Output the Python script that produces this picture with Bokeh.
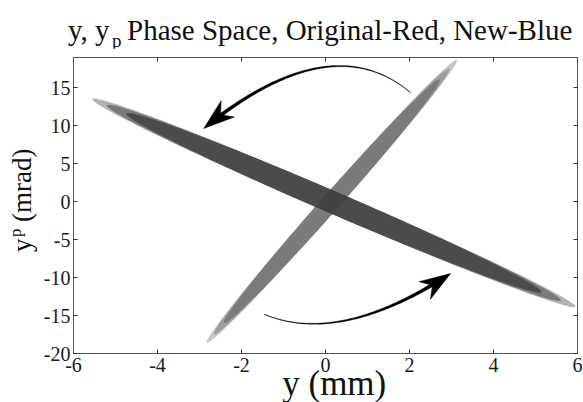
import numpy as np
from bokeh.plotting import figure
from bokeh.layouts import column, row
from bokeh.models import (Range1d, LinearAxis, FixedTicker, Div,
                          CustomJSTickFormatter)
from bokeh.embed import file_html
from bokeh.resources import INLINE

# ---- beam extents (y in mm, y' in mrad) ----
# Each beam is an ellipse given by its two tips and the half-chord through its centre.
orig_tip_low = [-2.82, -18.6]
orig_tip_high = [3.12, 18.7]
orig_half_chord = [0.28, 0.0]      # horizontal half-chord (mm)
new_tip_high = [-5.55, 13.5]
new_tip_low = [5.95, -13.8]
new_half_chord = [0.0, 1.6]        # vertical half-chord (mrad)

# ---- rotation arrows: tail, mid-curve point, head tip ----
arrow_upper = [[2.02, 14.39], [-0.16, 17.62], [-2.90, 9.65]]
arrow_lower = [[-1.45, -14.86], [0.56, -15.55], [2.98, -9.46]]

x_ticks = [-6, -4, -2, 0, 2, 4, 6]
y_ticks = [-20, -15, -10, -5, 0, 5, 10, 15]
x_lim = [-6, 6]
y_lim = [-20, 19]

title_main = "y, y"
title_sub = "p"
title_rest = "Phase Space, Original-Red, New-Blue"
ylabel_main = "y"
ylabel_sub = "p"
ylabel_rest = "(mrad)"
xlabel = "y (mm)"

FW, FH = 504, 296
FONT = "Liberation Serif"

p = figure(frame_width=FW, frame_height=FH,
           x_range=Range1d(*x_lim), y_range=Range1d(*y_lim),
           output_backend="svg", toolbar_location=None,
           min_border_left=33, min_border_right=6,
           min_border_top=9, min_border_bottom=49)
p.grid.visible = False
p.outline_line_color = "#555555"
p.background_fill_color = "white"
p.border_fill_color = "white"

kx = FW / (x_lim[1] - x_lim[0])
ky = FH / (y_lim[1] - y_lim[0])


def to_px(x, y):
    return (np.asarray(x) - x_lim[0]) * kx, (y_lim[1] - np.asarray(y)) * ky


def to_data(px, py):
    return np.asarray(px) / kx + x_lim[0], y_lim[1] - np.asarray(py) / ky


# ---- beams: a solid core with two layers fading towards the tips ----
t = np.linspace(0, 2 * np.pi, 240)
layers = [(1.00, 1.00, 0.40), (0.94, 0.995, 0.50), (0.86, 0.985, 0.80)]


def beam(tip_a, tip_b, chord, color):
    c = (np.array(tip_a) + np.array(tip_b)) / 2
    a = (np.array(tip_b) - np.array(tip_a)) / 2
    d = np.array(chord)
    for sl, sw, al in layers:
        xs = c[0] + np.cos(t) * a[0] * sl + np.sin(t) * d[0] * sw
        ys = c[1] + np.cos(t) * a[1] * sl + np.sin(t) * d[1] * sw
        p.patch(xs, ys, fill_color=color, fill_alpha=al, line_color=None)


beam(orig_tip_low, orig_tip_high, orig_half_chord, "#737373")
beam(new_tip_high, new_tip_low, new_half_chord, "#404040")


# ---- curved tapered arrows ----
def arrow(pts, head_len=31.0, head_half=10.5, w0=0.5, w1=3.8):
    P = np.array([to_px(*q) for q in pts])
    p0, m, p2 = P
    cpt = 2 * m - (p0 + p2) / 2
    s = np.linspace(0, 1, 200)[:, None]
    curve = (1 - s) ** 2 * p0 + 2 * (1 - s) * s * cpt + s ** 2 * p2
    tan = p2 - cpt
    tan = tan / np.hypot(*tan)
    nrm = np.array([-tan[1], tan[0]])
    base = p2 - tan * head_len
    notch = p2 - tan * head_len * 0.70
    keep = np.hypot(*(curve - p2).T) > head_len * 0.6
    c = curve[keep]
    ss = s[keep][:, 0]
    g = np.gradient(c, axis=0)
    g = g / np.hypot(*g.T)[:, None]
    nn = np.stack([-g[:, 1], g[:, 0]], axis=1)
    w = (w0 + (w1 - w0) * ss ** 1.5)[:, None] / 2
    poly = np.vstack([c + nn * w, (c - nn * w)[::-1]])
    bx, by = to_data(poly[:, 0], poly[:, 1])
    p.patch(bx, by, fill_color="black", line_color="black", line_width=0.3)
    head = np.array([p2, base + nrm * head_half, notch, base - nrm * head_half])
    hx, hy = to_data(head[:, 0], head[:, 1])
    p.patch(hx, hy, fill_color="black", line_color="black", line_width=0.5)


arrow(arrow_upper)
arrow(arrow_lower)

# ---- axes ----
fmt = CustomJSTickFormatter(code="return String(tick);")
for ax in (p.xaxis[0], p.yaxis[0]):
    ax.major_tick_in = 4
    ax.major_tick_out = 0
    ax.minor_tick_line_color = None
    ax.axis_line_color = "#555555"
    ax.major_tick_line_color = "#333333"
    ax.major_label_text_font = FONT
    ax.major_label_text_font_size = "20px"
    ax.major_label_text_color = "#1a1a1a"
    ax.formatter = fmt
p.xaxis[0].ticker = FixedTicker(ticks=x_ticks)
p.yaxis[0].ticker = FixedTicker(ticks=y_ticks)
p.xaxis[0].major_label_standoff = 4
p.yaxis[0].major_label_standoff = 3
p.xaxis[0].axis_label = "\u2002" + xlabel
p.xaxis[0].axis_label_text_font = FONT
p.xaxis[0].axis_label_text_font_size = "35px"
p.xaxis[0].axis_label_text_font_style = "normal"
p.xaxis[0].axis_label_text_color = "#111111"
p.xaxis[0].axis_label_standoff = -11

# tick marks (no labels) along the top and right edges of the box
for loc, ticks in (("above", x_ticks), ("right", y_ticks)):
    ax = LinearAxis(ticker=FixedTicker(ticks=ticks), major_tick_in=4,
                    major_tick_out=0, minor_tick_line_color=None,
                    axis_line_color="#555555", major_tick_line_color="#333333",
                    major_label_text_font_size="0px",
                    major_label_text_color=None, major_label_standoff=0)
    p.add_layout(ax, loc)


# ---- title and y label (with subscripts) as HTML text ----
def span(text, left, top, size, rotate=False):
    rot = ("transform:rotate(-90deg);transform-origin:left top;"
           if rotate else "")
    return (f'<span style="position:absolute;left:{left}px;top:{top}px;'
            f'font-size:{size}px;line-height:{size}px;white-space:nowrap;'
            f'{rot}">{text}</span>')


box = ("position:relative;overflow:visible;font-family:'Liberation Serif';"
       "color:#111111;")
title_html = (f'<div style="{box}width:583px;height:48px;">'
              + span(title_main, 68, 16, 29)
              + span(title_sub, 112, 31, 19)
              + span(title_rest, 127, 16, 29)
              + '</div>')
ylabel_html = (f'<div style="{box}width:40px;height:354px;">'
               + span(ylabel_main, 9, 204, 27, True)
               + span(ylabel_sub, 7, 189, 17, True)
               + span(ylabel_rest, 9, 174, 27, True)
               + '</div>')

title_div = Div(text=title_html, width=583, height=48, margin=0)
ylabel_div = Div(text=ylabel_html, width=40, height=354, margin=0)

layout = column(title_div, row(ylabel_div, p, spacing=0), spacing=0)

open("out.html", "w").write(file_html(layout, INLINE))
